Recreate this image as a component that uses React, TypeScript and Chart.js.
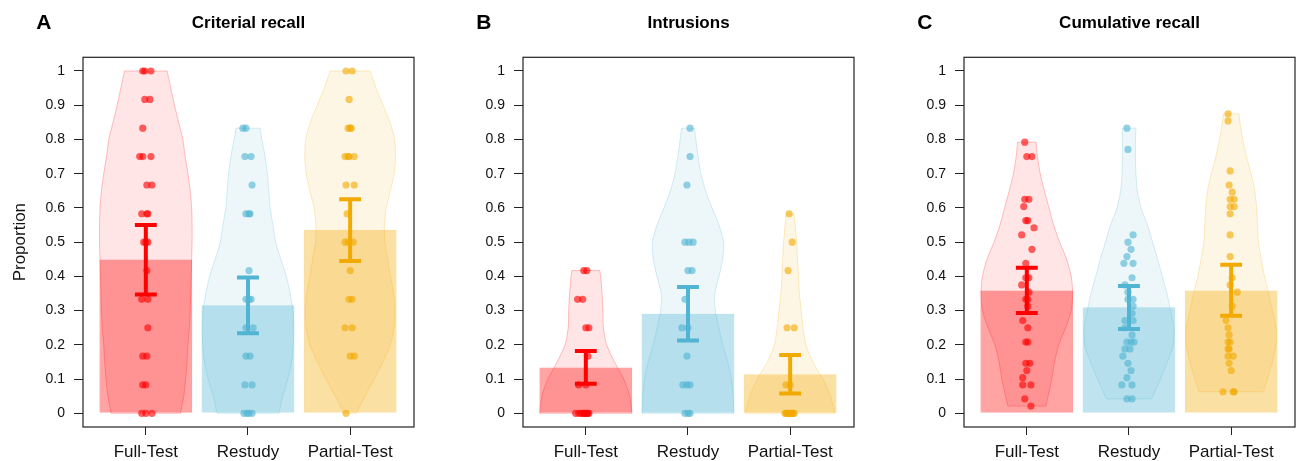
import React, { useEffect, useRef } from "react";
import { Chart, registerables } from "chart.js";

Chart.register(...registerables);

// ---------------- data ----------------
const categories = ["Full-Test", "Restudy", "Partial-Test"];
const panelLetters = ["A", "B", "C"];
const panelTitles = ["Criterial recall", "Intrusions", "Cumulative recall"];
const yAxisTitle = "Proportion";
const yTickValues = [0, 0.1, 0.2, 0.3, 0.4, 0.5, 0.6, 0.7, 0.8, 0.9, 1];
const yTickLabels = ["0", "0.1", "0.2", "0.3", "0.4", "0.5", "0.6", "0.7", "0.8", "0.9", "1"];

// bar heights (means) and error bar bounds
const recallMeans = [0.449, 0.316, 0.536];
const recallLow = [0.347, 0.234, 0.445];
const recallHigh = [0.55, 0.397, 0.625];
const intrMeans = [0.134, 0.291, 0.114];
const intrLow = [0.086, 0.213, 0.058];
const intrHigh = [0.182, 0.369, 0.17];
const cumMeans = [0.359, 0.31, 0.359];
const cumLow = [0.293, 0.246, 0.285];
const cumHigh = [0.425, 0.372, 0.434];

// individual points (value) and horizontal jitter (category units)
const recallFullY = [1, 1, 1, 0.917, 0.917, 0.833, 0.75, 0.75, 0.75, 0.667, 0.667, 0.583, 0.583, 0.583, 0.5, 0.5, 0.5, 0.417, 0.333, 0.333, 0.25, 0.167, 0.167, 0.083, 0.083, 0, 0, 0];
const recallFullJit = [-0.03, -0.01, 0.05, -0.01, 0.04, -0.03, -0.06, -0.03, 0.05, 0.01, 0.06, -0.04, 0.01, 0.02, -0.02, 0.02, 0, 0.01, -0.04, 0.02, 0.02, -0.03, 0.01, -0.03, 0, -0.04, 0, 0.06];
const recallRestudyY = [0.833, 0.833, 0.75, 0.75, 0.667, 0.583, 0.583, 0.583, 0.417, 0.333, 0.333, 0.333, 0.25, 0.25, 0.167, 0.167, 0.083, 0.083, 0, 0, 0, 0];
const recallRestudyJit = [-0.05, -0.02, -0.03, 0.03, 0.04, -0.02, 0.01, 0.02, 0.01, -0.02, 0.01, 0.03, -0.02, 0.05, -0.02, 0.02, -0.03, 0.04, -0.04, -0.01, 0.01, 0.04];
const recallPartialY = [1, 1, 0.917, 0.833, 0.833, 0.833, 0.75, 0.75, 0.75, 0.75, 0.667, 0.667, 0.583, 0.5, 0.5, 0.5, 0.417, 0.333, 0.333, 0.25, 0.25, 0.167, 0.167, 0];
const recallPartialJit = [-0.04, 0.02, -0.01, -0.02, 0, 0.01, -0.05, -0.02, -0.01, 0.04, -0.04, 0.04, -0.03, -0.05, -0.02, 0.03, 0, -0.01, 0.02, -0.05, 0.02, 0, 0.04, -0.04];

const intrFullY = [0.417, 0.417, 0.333, 0.333, 0.25, 0.25, 0.167, 0.083, 0.083, 0, 0, 0, 0, 0, 0, 0, 0, 0, 0];
const intrFullJit = [-0.02, 0.01, -0.08, -0.03, 0, 0.03, 0.02, -0.07, 0, -0.1, -0.07, -0.05, -0.03, -0.01, 0, 0.01, 0.02, 0.03, -0.02];
const intrRestudyY = [0.833, 0.75, 0.667, 0.5, 0.5, 0.5, 0.417, 0.417, 0.333, 0.25, 0.25, 0.167, 0.083, 0.083, 0.083, 0, 0, 0];
const intrRestudyJit = [0.02, 0.02, -0.01, -0.03, 0.01, 0.05, 0, 0.04, -0.03, -0.06, 0, -0.01, -0.05, -0.01, 0.02, -0.03, 0, 0.02];
const intrPartialY = [0.583, 0.5, 0.417, 0.25, 0.25, 0.083, 0.083, 0, 0, 0, 0, 0, 0, 0, 0, 0, 0];
const intrPartialJit = [-0.01, 0.02, -0.02, -0.03, 0.04, -0.04, 0, -0.05, -0.04, -0.03, -0.02, -0.01, 0, 0.01, 0.02, 0.03, 0.04];

const cumFullY = [0.792, 0.75, 0.75, 0.625, 0.625, 0.604, 0.563, 0.563, 0.542, 0.521, 0.479, 0.438, 0.396, 0.396, 0.375, 0.354, 0.333, 0.333, 0.313, 0.271, 0.25, 0.208, 0.208, 0.146, 0.146, 0.125, 0.104, 0.083, 0.083, 0.042, 0.021];
const cumFullJit = [-0.02, 0, 0.05, -0.02, 0.02, -0.03, -0.01, 0.01, 0.07, -0.05, 0.05, -0.01, -0.01, 0.02, -0.05, 0.02, -0.01, 0.01, 0.01, -0.04, 0.01, -0.01, 0.01, -0.01, 0.03, 0, -0.04, -0.04, 0.04, -0.02, 0.04];
const cumRestudyY = [0.833, 0.771, 0.521, 0.5, 0.479, 0.458, 0.438, 0.438, 0.396, 0.375, 0.354, 0.333, 0.333, 0.313, 0.292, 0.271, 0.271, 0.25, 0.229, 0.208, 0.208, 0.208, 0.188, 0.188, 0.167, 0.146, 0.125, 0.104, 0.083, 0.083, 0.042, 0.042];
const cumRestudyJit = [-0.02, -0.01, 0.04, -0.01, 0.02, -0.02, -0.05, 0.04, 0.03, -0.04, -0.01, 0.04, -0.01, 0.04, 0.03, -0.04, 0.04, -0.04, 0.03, -0.02, 0.02, 0.05, 0.01, -0.04, -0.06, -0.01, 0.02, -0.02, -0.07, 0.03, -0.02, 0.03];
const cumPartialY = [0.875, 0.854, 0.708, 0.667, 0.646, 0.625, 0.625, 0.604, 0.604, 0.583, 0.521, 0.458, 0.396, 0.375, 0.354, 0.313, 0.271, 0.25, 0.229, 0.208, 0.208, 0.188, 0.188, 0.167, 0.167, 0.146, 0.125, 0.063, 0.063, 0.063];
const cumPartialJit = [-0.03, -0.03, -0.01, -0.02, 0.01, -0.01, 0.03, -0.01, 0.03, -0.01, -0.01, -0.01, 0.01, -0.01, 0.06, 0.01, -0.05, -0.03, -0.02, -0.03, -0.01, -0.03, -0.02, -0.03, 0.02, -0.02, 0, -0.08, 0.02, 0.03];

// violin profiles: levels (value) and relative density width (1 = widest)
const recallFullVioY = [0, 0.05, 0.1, 0.15, 0.2, 0.25, 0.3, 0.35, 0.4, 0.45, 0.5, 0.55, 0.6, 0.65, 0.7, 0.75, 0.8, 0.85, 0.9, 0.95, 1];
const recallFullVioW = [0.75, 0.82, 0.86, 0.89, 0.91, 0.94, 0.96, 0.97, 0.98, 0.99, 1, 1, 0.99, 0.96, 0.91, 0.85, 0.8, 0.71, 0.62, 0.54, 0.46];
const recallRestudyVioY = [0, 0.05, 0.1, 0.15, 0.2, 0.25, 0.3, 0.35, 0.4, 0.45, 0.5, 0.55, 0.6, 0.65, 0.7, 0.75, 0.8, 0.833];
const recallRestudyVioW = [0.67, 0.75, 0.86, 0.94, 0.98, 0.99, 0.97, 0.91, 0.83, 0.71, 0.6, 0.54, 0.48, 0.45, 0.42, 0.37, 0.3, 0.26];
const recallPartialVioY = [0, 0.05, 0.1, 0.15, 0.2, 0.25, 0.3, 0.35, 0.4, 0.45, 0.5, 0.55, 0.6, 0.65, 0.7, 0.75, 0.8, 0.85, 0.9, 0.95, 1];
const recallPartialVioW = [0.13, 0.32, 0.52, 0.71, 0.87, 0.95, 0.97, 0.94, 0.87, 0.81, 0.75, 0.74, 0.78, 0.87, 0.95, 0.98, 0.96, 0.86, 0.71, 0.56, 0.43];

const intrFullVioY = [0, 0.05, 0.1, 0.15, 0.2, 0.25, 0.3, 0.35, 0.4, 0.417];
const intrFullVioW = [1, 0.95, 0.82, 0.62, 0.45, 0.38, 0.37, 0.35, 0.32, 0.3];
const intrRestudyVioY = [0, 0.05, 0.1, 0.15, 0.2, 0.25, 0.3, 0.35, 0.4, 0.45, 0.5, 0.55, 0.6, 0.65, 0.7, 0.75, 0.8, 0.833];
const intrRestudyVioW = [0.99, 0.98, 0.94, 0.86, 0.75, 0.67, 0.59, 0.58, 0.67, 0.75, 0.77, 0.67, 0.52, 0.38, 0.28, 0.22, 0.17, 0.14];
const intrPartialVioY = [0, 0.05, 0.1, 0.15, 0.2, 0.25, 0.3, 0.35, 0.4, 0.45, 0.5, 0.55, 0.583];
const intrPartialVioW = [0.97, 0.87, 0.71, 0.49, 0.34, 0.28, 0.24, 0.2, 0.18, 0.16, 0.14, 0.11, 0.08];

const cumFullVioY = [0.021, 0.05, 0.1, 0.15, 0.2, 0.25, 0.3, 0.35, 0.4, 0.45, 0.5, 0.55, 0.6, 0.65, 0.7, 0.75, 0.792];
const cumFullVioW = [0.41, 0.46, 0.54, 0.6, 0.69, 0.84, 0.96, 0.99, 0.96, 0.86, 0.71, 0.58, 0.48, 0.38, 0.29, 0.23, 0.2];
const cumRestudyVioY = [0.042, 0.1, 0.15, 0.2, 0.25, 0.3, 0.35, 0.4, 0.45, 0.5, 0.55, 0.6, 0.65, 0.7, 0.75, 0.8, 0.833];
const cumRestudyVioW = [0.49, 0.68, 0.83, 0.96, 0.97, 0.9, 0.82, 0.72, 0.62, 0.51, 0.4, 0.26, 0.18, 0.15, 0.14, 0.14, 0.15];
const cumPartialVioY = [0.063, 0.1, 0.15, 0.2, 0.25, 0.3, 0.35, 0.4, 0.45, 0.5, 0.55, 0.6, 0.65, 0.7, 0.75, 0.8, 0.85, 0.875];
const cumPartialVioW = [0.69, 0.78, 0.89, 0.97, 0.97, 0.89, 0.81, 0.72, 0.65, 0.59, 0.57, 0.55, 0.51, 0.43, 0.33, 0.25, 0.19, 0.17];

// ---------------- assembled tables ----------------
const panelData = [
  {
    means: recallMeans, low: recallLow, high: recallHigh,
    ptsY: [recallFullY, recallRestudyY, recallPartialY],
    ptsJ: [recallFullJit, recallRestudyJit, recallPartialJit],
    vioY: [recallFullVioY, recallRestudyVioY, recallPartialVioY],
    vioW: [recallFullVioW, recallRestudyVioW, recallPartialVioW],
  },
  {
    means: intrMeans, low: intrLow, high: intrHigh,
    ptsY: [intrFullY, intrRestudyY, intrPartialY],
    ptsJ: [intrFullJit, intrRestudyJit, intrPartialJit],
    vioY: [intrFullVioY, intrRestudyVioY, intrPartialVioY],
    vioW: [intrFullVioW, intrRestudyVioW, intrPartialVioW],
  },
  {
    means: cumMeans, low: cumLow, high: cumHigh,
    ptsY: [cumFullY, cumRestudyY, cumPartialY],
    ptsJ: [cumFullJit, cumRestudyJit, cumPartialJit],
    vioY: [cumFullVioY, cumRestudyVioY, cumPartialVioY],
    vioW: [cumFullVioW, cumRestudyVioW, cumPartialVioW],
  },
];

// ---------------- styles ----------------
const FONT = "'Liberation Sans', Arial, Helvetica, sans-serif";
const BASE = ["255,0,0", "80,180,210", "242,170,0"];
const PANEL_LEFT = [0, 440, 881];
const CANVAS_W = 418;
const CANVAS_H = 461;
const VIOLIN_HALF = 0.453;
const CAP_HALF = 0.107;

Chart.defaults.font.family = FONT;

const framePlugin = {
  id: "frame",
  afterDraw(chart: any, _args: any, opts: any) {
    const { ctx, chartArea: a } = chart;
    ctx.save();
    ctx.strokeStyle = "#222";
    ctx.lineWidth = 1.2;
    ctx.strokeRect(a.left, a.top, a.right - a.left, a.bottom - a.top);
    ctx.fillStyle = "#000";
    ctx.font = `bold 21px ${FONT}`;
    ctx.textAlign = "left";
    ctx.textBaseline = "alphabetic";
    ctx.fillText(opts.letter, a.left - 46.7, 28.5);
    ctx.restore();
  },
};

// closed outline: right side upward, flat top, left side downward, flat bottom.
// corner points are repeated so the smoothed curve keeps sharp corners.
function violinPolygon(center: number, ys: number[], ws: number[]) {
  const n = ys.length;
  const R = (k: number) => ({ x: center + ws[k] * VIOLIN_HALF, y: ys[k] });
  const L = (k: number) => ({ x: center - ws[k] * VIOLIN_HALF, y: ys[k] });
  const pts: { x: number; y: number }[] = [R(0), R(0)];
  for (let k = 1; k < n; k++) pts.push(R(k));
  pts.push(R(n - 1), L(n - 1), L(n - 1));
  for (let k = n - 2; k >= 0; k--) pts.push(L(k));
  pts.push(L(0), R(0), R(0));
  return pts;
}

function Panel({ index }: { index: number }) {
  const ref = useRef<HTMLCanvasElement>(null);

  useEffect(() => {
    const d = panelData[index];
    const datasets: any[] = [];

    // violins (bottom)
    categories.forEach((_, i) => {
      datasets.push({
        type: "scatter",
        showLine: true,
        data: violinPolygon(i, d.vioY[i], d.vioW[i]),
        fill: "shape",
        backgroundColor: `rgba(${BASE[i]},0.1)`,
        borderColor: `rgba(${BASE[i]},0.24)`,
        borderWidth: 1,
        pointRadius: 0,
        tension: 0.25,
        order: 4,
      });
    });

    // bars
    datasets.push({
      type: "bar",
      data: d.means.map((m, i) => ({ x: i, y: m })),
      backgroundColor: BASE.map((c) => `rgba(${c},0.36)`),
      borderColor: BASE.map((c) => `rgba(${c},0.42)`),
      borderWidth: 1,
      barPercentage: 0.909,
      categoryPercentage: 1,
      order: 3,
    });

    // jittered points
    categories.forEach((_, i) => {
      datasets.push({
        type: "scatter",
        data: d.ptsY[i].map((y, k) => ({ x: i + d.ptsJ[i][k], y })),
        backgroundColor: `rgba(${BASE[i]},0.62)`,
        borderWidth: 0,
        pointRadius: 3.6,
        order: 2,
      });
    });

    // error bars
    categories.forEach((_, i) => {
      const lo = d.low[i];
      const hi = d.high[i];
      datasets.push({
        type: "scatter",
        showLine: true,
        data: [
          { x: i - CAP_HALF, y: lo },
          { x: i + CAP_HALF, y: lo },
          { x: i, y: lo },
          { x: i, y: hi },
          { x: i - CAP_HALF, y: hi },
          { x: i + CAP_HALF, y: hi },
        ],
        borderColor: `rgb(${BASE[i]})`,
        borderWidth: 4,
        borderJoinStyle: "bevel",
        borderCapStyle: "butt",
        pointRadius: 0,
        tension: 0,
        fill: false,
        order: 1,
      });
    });

    const chart = new Chart(ref.current as HTMLCanvasElement, {
      type: "scatter",
      data: { datasets },
      plugins: [framePlugin as any],
      options: {
        responsive: false,
        animation: false,
        events: [],
        layout: { padding: { left: 0, right: 2, top: 0, bottom: 0 } },
        plugins: {
          legend: { display: false },
          tooltip: { enabled: false },
          title: {
            display: true,
            text: panelTitles[index],
            color: "#000",
            font: { size: 17, weight: "bold", family: FONT },
            padding: { top: 13.5, bottom: 23.4 },
            fullSize: false,
          },
          frame: { letter: panelLetters[index] },
        } as any,
        scales: {
          x: {
            type: "linear",
            min: -0.615,
            max: 2.625,
            offset: false,
            afterBuildTicks: (s: any) => {
              s.ticks = categories.map((_, i) => ({ value: i }));
            },
            afterFit: (s: any) => {
              s.height = 34;
            },
            ticks: {
              callback: (_v: any, i: number) => categories[i],
              font: { size: 17, family: FONT },
              color: "#111",
              padding: 7.5,
              autoSkip: false,
              maxRotation: 0,
              minRotation: 0,
            },
            grid: {
              display: true,
              drawOnChartArea: false,
              drawTicks: true,
              tickLength: 8,
              color: "#222",
              lineWidth: 1,
              offset: false,
            },
            border: { display: false },
          } as any,
          y: {
            type: "linear",
            min: -0.04,
            max: 1.04,
            afterBuildTicks: (s: any) => {
              s.ticks = yTickValues.map((v) => ({ value: v }));
            },
            afterFit: (s: any) => {
              s.width = 83;
            },
            ticks: {
              callback: (_v: any, i: number) => yTickLabels[i],
              font: { size: 14, family: FONT },
              color: "#111",
              padding: 9,
              autoSkip: false,
            },
            grid: {
              display: true,
              drawOnChartArea: false,
              drawTicks: true,
              tickLength: 9,
              color: "#222",
              lineWidth: 1,
            },
            border: { display: false },
            title: {
              display: index === 0,
              text: yAxisTitle,
              color: "#111",
              font: { size: 17, family: FONT },
              padding: { top: 10, bottom: 0 },
            },
          } as any,
        },
      },
    });
    return () => chart.destroy();
  }, [index]);

  return (
    <canvas
      ref={ref}
      width={CANVAS_W}
      height={CANVAS_H}
      style={{ position: "absolute", left: PANEL_LEFT[index], top: 0 }}
    />
  );
}

export default function App() {
  return (
    <div
      style={{
        position: "absolute",
        left: 0,
        top: 0,
        width: 1299,
        height: 461,
        background: "#fff",
        overflow: "hidden",
      }}
    >
      {categories.map((_, i) => (
        <Panel key={i} index={i} />
      ))}
    </div>
  );
}
